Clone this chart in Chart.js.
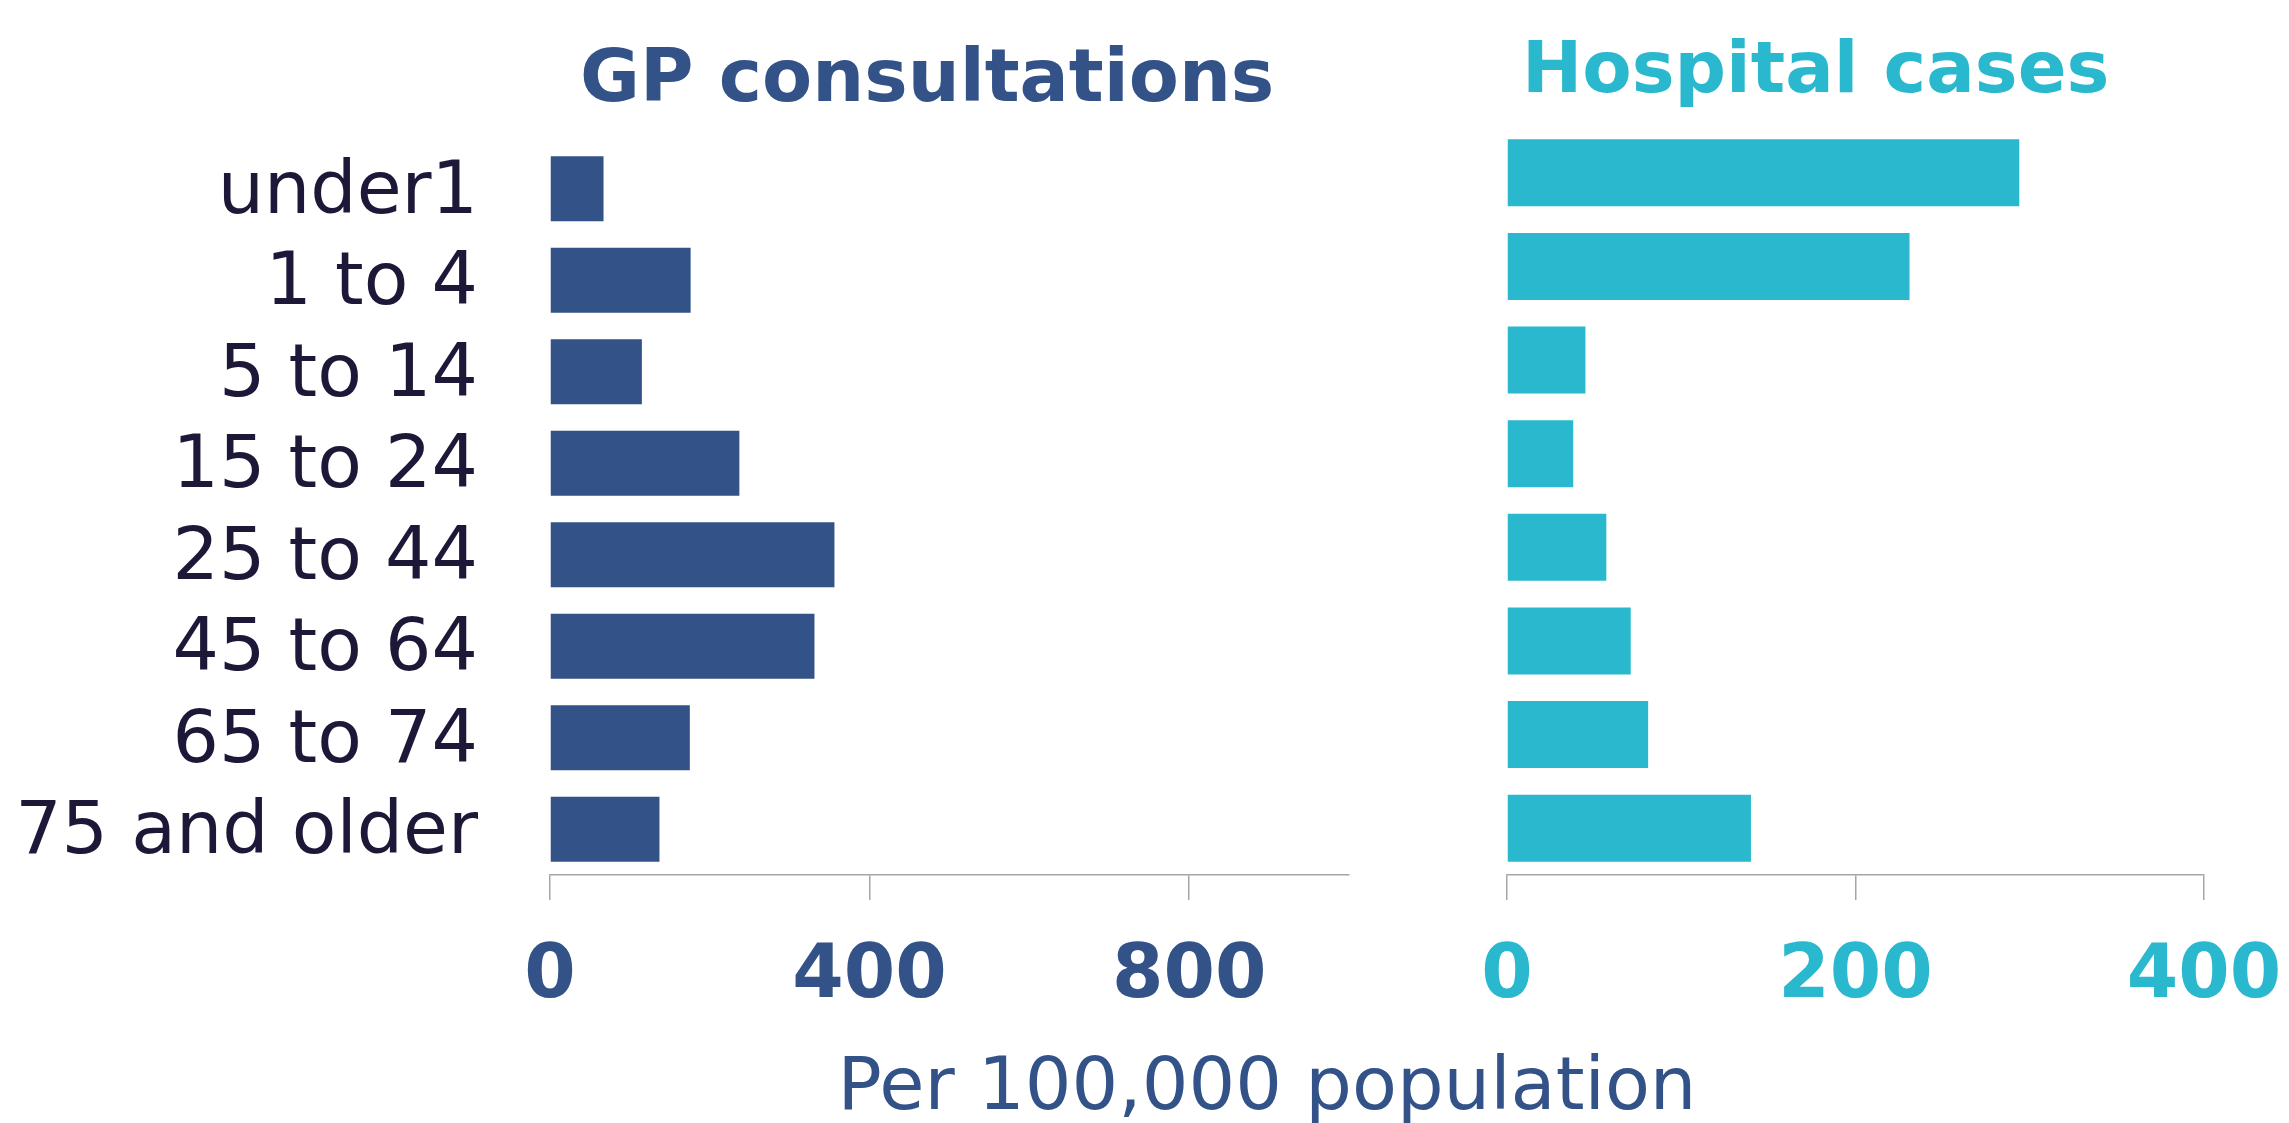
<!DOCTYPE html>
<html>
<head>
<meta charset="utf-8">
<script src="https://cdn.jsdelivr.net/npm/chart.js@4"></script>
<style>
    body { margin: 0; background: #fff; }
    #wrap { position: relative; width: 2289px; height: 1123px; overflow: hidden; }
    #gpBox { position: absolute; left: 0; top: 0; }
    #hospBox { position: absolute; left: 1400px; top: 0; }
    #xTitle {
        position: absolute; left: 667px; top: 1047px; width: 1200px;
        text-align: center; font: 73.5px "DejaVu Sans"; line-height: 73px; color: #335288;
    }
</style>
</head>
<body>
<div id="wrap">
    <div id="gpBox"><canvas id="gpChart" width="1400" height="1123"></canvas></div>
    <div id="hospBox"><canvas id="hospChart" width="889" height="1123"></canvas></div>
    <div id="xTitle">Per 100,000 population</div>
</div>
<script>
const ageGroups = ['under1', '1 to 4', '5 to 14', '15 to 24', '25 to 44', '45 to 64', '65 to 74', '75 and older'];
const gpRates = [67, 176, 115, 237, 356, 331, 175, 137];
const hospitalRates = [294, 231, 45, 38, 57, 71, 81, 140];

const navy = '#335288';
const teal = '#29b8cd';
const axisGrey = '#a6a6a6';

// title text drawn above the bars, offset from the plot's left edge
const panelTitle = {
    id: 'panelTitle',
    afterDraw(chart, args, opts) {
        const ctx = chart.ctx;
        ctx.save();
        ctx.font = 'bold ' + opts.size + 'px "DejaVu Sans"';
        ctx.fillStyle = opts.color;
        ctx.textAlign = 'left';
        ctx.textBaseline = 'alphabetic';
        ctx.fillText(opts.text, chart.chartArea.left + opts.offset, opts.baseline);
        ctx.restore();
    }
};

function xScale(max, step, color) {
    return {
        min: 0,
        max: max,
        afterFit: function (scale) {
            scale.height = 200;
            // labels may hang past the plot edge, don't shrink the plot for them
            scale.paddingLeft = 0;
            scale.paddingRight = 0;
        },
        ticks: {
            stepSize: step,
            includeBounds: false,
            padding: 33,
            color: color,
            font: { family: 'DejaVu Sans', size: 74, weight: 'bold' }
        },
        grid: { drawOnChartArea: false, drawTicks: true, tickLength: 25, color: axisGrey, lineWidth: 1.5 },
        border: { display: true, color: axisGrey, width: 1.5 }
    };
}

new Chart(document.getElementById('gpChart'), {
    type: 'bar',
    data: {
        labels: ageGroups,
        datasets: [{
            data: gpRates,
            backgroundColor: navy,
            categoryPercentage: 1,
            barPercentage: 0.71
        }]
    },
    options: {
        indexAxis: 'y',
        responsive: false,
        animation: false,
        devicePixelRatio: 1,
        layout: { padding: { top: 143, bottom: 48, right: 51, left: 0 } },
        scales: {
            x: xScale(1000, 400, navy),
            y: {
                afterFit: function (scale) { scale.width = 550; },
                ticks: { padding: 72, labelOffset: 5, color: '#1e1838', font: { family: 'DejaVu Sans', size: 73 } },
                grid: { display: false, drawTicks: false },
                border: { display: false }
            }
        },
        plugins: {
            legend: { display: false },
            tooltip: { enabled: false },
            panelTitle: { text: 'GP consultations', size: 73, color: navy, offset: 30, baseline: 101 }
        }
    },
    plugins: [panelTitle]
});

new Chart(document.getElementById('hospChart'), {
    type: 'bar',
    data: {
        labels: ageGroups,
        datasets: [{
            data: hospitalRates,
            backgroundColor: teal,
            categoryPercentage: 1,
            barPercentage: 0.715
        }]
    },
    options: {
        indexAxis: 'y',
        responsive: false,
        animation: false,
        devicePixelRatio: 1,
        layout: { padding: { top: 126, bottom: 48, right: 85, left: 107 } },
        scales: {
            x: xScale(400, 200, teal),
            y: { display: false }
        },
        plugins: {
            legend: { display: false },
            tooltip: { enabled: false },
            panelTitle: { text: 'Hospital cases', size: 72, color: teal, offset: 15, baseline: 92 }
        }
    },
    plugins: [panelTitle]
});
</script>
</body>
</html>
